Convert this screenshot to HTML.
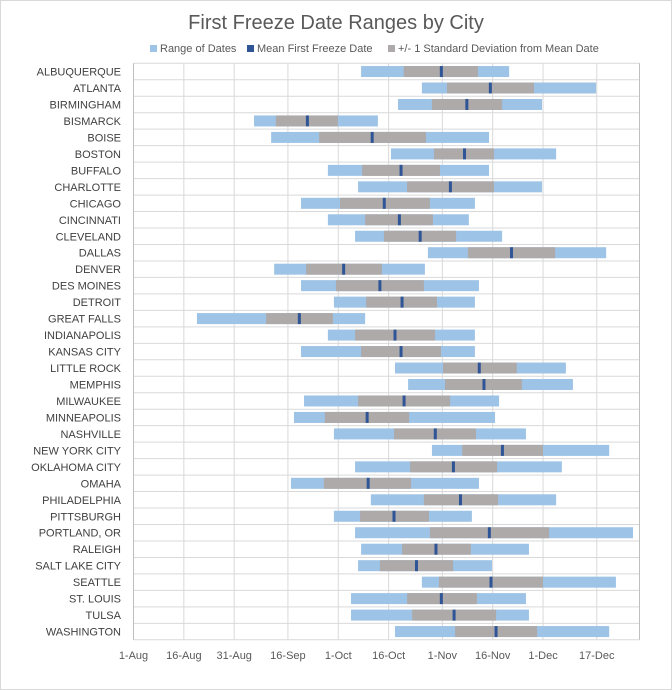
<!DOCTYPE html>
<html><head><meta charset="utf-8"><style>
html,body{margin:0;padding:0;background:#fff;}
svg{display:block;font-family:"Liberation Sans",sans-serif;}
</style></head><body>
<svg id="chart" width="672" height="690" viewBox="0 0 672 690" xmlns="http://www.w3.org/2000/svg">
<rect x="0.5" y="0.5" width="671" height="689" fill="#fff" stroke="#d9d9d9"/>
<text x="336" y="29" text-anchor="middle" font-size="20" fill="#595959">First Freeze Date Ranges by City</text>
<g font-size="11" fill="#595959">
<g><rect x="150" y="45" width="7" height="7" fill="#9dc3e6"/><text x="160" y="52">Range of Dates</text></g>
<g><rect x="247" y="45" width="7" height="7" fill="#2f5597"/><text x="257" y="52">Mean First Freeze Date</text></g>
<g><rect x="388" y="45" width="7" height="7" fill="#aeaaaa"/><text x="398" y="52">+/- 1 Standard Deviation from Mean Date</text></g>
</g>
<g id="grid"></g>
<g id="bars"></g>
<g id="labels"></g>
<g id="ticks"></g>
</svg>
<script>
const cities=["ALBUQUERQUE","ATLANTA","BIRMINGHAM","BISMARCK","BOISE","BOSTON","BUFFALO","CHARLOTTE","CHICAGO","CINCINNATI","CLEVELAND","DALLAS","DENVER","DES MOINES","DETROIT","GREAT FALLS","INDIANAPOLIS","KANSAS CITY","LITTLE ROCK","MEMPHIS","MILWAUKEE","MINNEAPOLIS","NASHVILLE","NEW YORK CITY","OKLAHOMA CITY","OMAHA","PHILADELPHIA","PITTSBURGH","PORTLAND, OR","RALEIGH","SALT LAKE CITY","SEATTLE","ST. LOUIS","TULSA","WASHINGTON"];
// days since Aug 1
const minDay=[67.8,85.9,78.8,35.9,41.0,76.7,57.9,66.9,49.9,57.9,66.0,87.7,41.9,49.9,59.7,18.9,57.9,49.9,77.9,81.8,50.8,47.8,59.7,88.9,66.0,46.9,70.7,59.7,66.0,67.8,66.9,85.9,64.8,64.8,77.9];
const sdLow=[80.5,93.4,88.9,42.4,55.3,89.5,68.1,81.5,61.5,69.0,74.6,99.6,51.4,60.3,69.3,39.5,66.0,67.8,92.2,92.8,66.9,57.0,77.6,97.9,82.4,56.7,86.5,67.5,88.3,80.0,73.4,91.0,81.5,83.0,95.8];
const meanDay=[91.7,106.3,99.3,51.8,71.1,98.6,79.7,94.4,74.7,79.2,85.4,112.6,62.6,73.4,80.0,49.4,77.9,79.7,103.0,104.4,80.6,69.6,89.9,109.9,95.3,69.9,97.4,77.6,106.0,90.1,84.3,106.5,91.7,95.5,108.0];
const sdHigh=[102.6,119.3,109.8,60.9,87.1,107.4,91.3,107.4,88.3,89.2,96.1,125.6,74.0,86.5,90.4,59.4,89.8,91.6,114.2,115.7,94.3,82.1,102.0,122.0,108.3,82.7,108.6,88.0,123.8,100.5,95.2,122.0,102.3,108.0,120.2];
const maxDay=[111.9,137.8,121.7,72.8,105.9,125.9,105.9,121.7,101.7,99.9,109.8,140.8,86.8,102.9,101.7,69.0,101.7,101.7,128.8,130.9,108.9,107.7,116.9,141.7,127.6,102.9,125.9,100.8,148.8,117.8,106.8,143.7,116.9,117.8,141.7];
const tickDays=[0,15,30,46,61,76,92,107,122,138];
const tickLabels=["1-Aug","16-Aug","31-Aug","16-Sep","1-Oct","16-Oct","1-Nov","16-Nov","1-Dec","17-Dec"];

const NS="http://www.w3.org/2000/svg";
const plotL=133.5,plotR=639.5,plotT=63.3,plotB=639.8;
const rowH=(plotB-plotT)/cities.length;
const x=d=>plotL+d*3.357;
const yc=i=>plotT+rowH*(i+0.5);
function mk(tag,attrs,parent){const e=document.createElementNS(NS,tag);for(const k in attrs)e.setAttribute(k,attrs[k]);parent.appendChild(e);return e;}
const grid=document.getElementById('grid'),bars=document.getElementById('bars'),labels=document.getElementById('labels'),ticks=document.getElementById('ticks');


for(let i=0;i<=cities.length;i++){
  const y=plotT+rowH*i;
  const l=mk('line',{x1:plotL,x2:plotR,y1:y,y2:y,stroke:'#d9d9d9','stroke-width':1},grid);
  
  
}
tickDays.forEach((d,i)=>{
  const xx=x(d);
  const l=mk('line',{x1:xx,x2:xx,y1:plotT,y2:plotB,stroke:'#d9d9d9','stroke-width':1},grid);
  
  
  const t=mk('text',{x:xx,y:659,'text-anchor':'middle','font-size':11,fill:'#595959'},ticks);
  t.textContent=tickLabels[i];
  
  
});
const rb=mk('line',{x1:plotR,x2:plotR,y1:plotT,y2:plotB,stroke:'#bfbfbf'},grid);


const lb=mk('line',{x1:plotL,x2:plotL,y1:plotT,y2:plotB,stroke:'#bfbfbf'},grid);


const bh=11;
cities.forEach((c,i)=>{
  const y=yc(i);
  const r=mk('rect',{x:x(minDay[i]),y:y-bh/2,width:x(maxDay[i])-x(minDay[i]),height:bh,fill:'#9dc3e6'},bars);
  
  
  const s=mk('rect',{x:x(sdLow[i]),y:y-bh/2,width:x(sdHigh[i])-x(sdLow[i]),height:bh,fill:'#aeaaaa'},bars);
  
  
  const m=mk('rect',{x:x(meanDay[i])-1.5,y:y-bh/2,width:3,height:bh,fill:'#2f5597'},bars);
  
  
  const t=mk('text',{x:121,y:y+4,'text-anchor':'end','font-size':11,fill:'#404040'},labels);
  t.textContent=c;
  
  
});
</script>
</body></html>
